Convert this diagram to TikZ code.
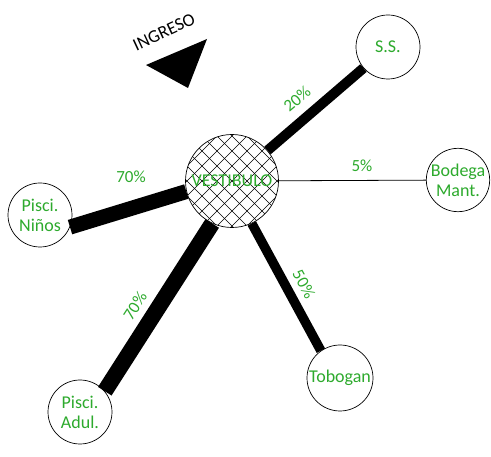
\documentclass[tikz,border=0pt]{standalone}
\usepackage{fontspec}
\setmainfont{Carlito}
\usepackage{tikz}
\usetikzlibrary{calc}
\definecolor{txtgreen}{RGB}{45,170,45}

\begin{document}
\begin{tikzpicture}[
    x=1pt, y=-1pt,
    room/.style={circle, draw, line width=0.7pt, fill=white, minimum size=64pt, inner sep=0pt,
                 align=center, text=txtgreen, font=\fontsize{18}{20}\selectfont},
    hall/.style={room, minimum size=93pt,
                 path picture={
                   \foreach \k in {-8,...,8} {
                     \draw[line width=0.5pt] ($(path picture bounding box.center)+(\k*15pt-60pt,-60pt)$) -- ++(120pt,120pt);
                     \draw[line width=0.5pt] ($(path picture bounding box.center)+(\k*15pt+60pt,-60pt)$) -- ++(-120pt,120pt);
                   }}},
    pct/.style={text=txtgreen, font=\fontsize{17}{19}\selectfont}
]
    \useasboundingbox (0,0) rectangle (491,457);

    % recintos
    \node[hall] (vest) at (232,181) {VESTIBULO};
    \node[room] (ss) at (388,47) {S.S.};
    \node[room, minimum size=60pt] (bod) at (458,180) {Bodega\\Mant.};
    \node[room] (ninos) at (40,215) {Pisci.\\Niños};
    \node[room] (adul) at (80,412) {Pisci.\\Adul.};
    \node[room, minimum size=66pt] (tob) at (340,378) {Tobogan};

    % relaciones
    \draw[line width=10pt] (vest) -- (ss);
    \draw[line width=0.8pt] (vest) -- (bod);
    \draw[line width=15pt] (vest.193) -- (ninos.-22);
    \draw[line width=16pt] (vest.245) -- (adul.40);
    \draw[line width=9.5pt] (vest.-65) -- (tob.125);

    % porcentajes
    \node[pct, rotate=40] (p1) at (297,99) {20\%};
    \node[pct] (p2) at (362,166) {5\%};
    \node[pct] (p3) at (131,177) {70\%};
    \node[pct, rotate=57] (p4) at (135,306) {70\%};
    \node[pct, rotate=-61] (p5) at (304,284) {50\%};

    % acceso
    \node[rotate=25, font=\fontsize{18}{20}\selectfont] (ing) at (164,32) {INGRESO};
    \fill (146,65) -- (207,39) -- (188,88) -- cycle;
\end{tikzpicture}
\end{document}
